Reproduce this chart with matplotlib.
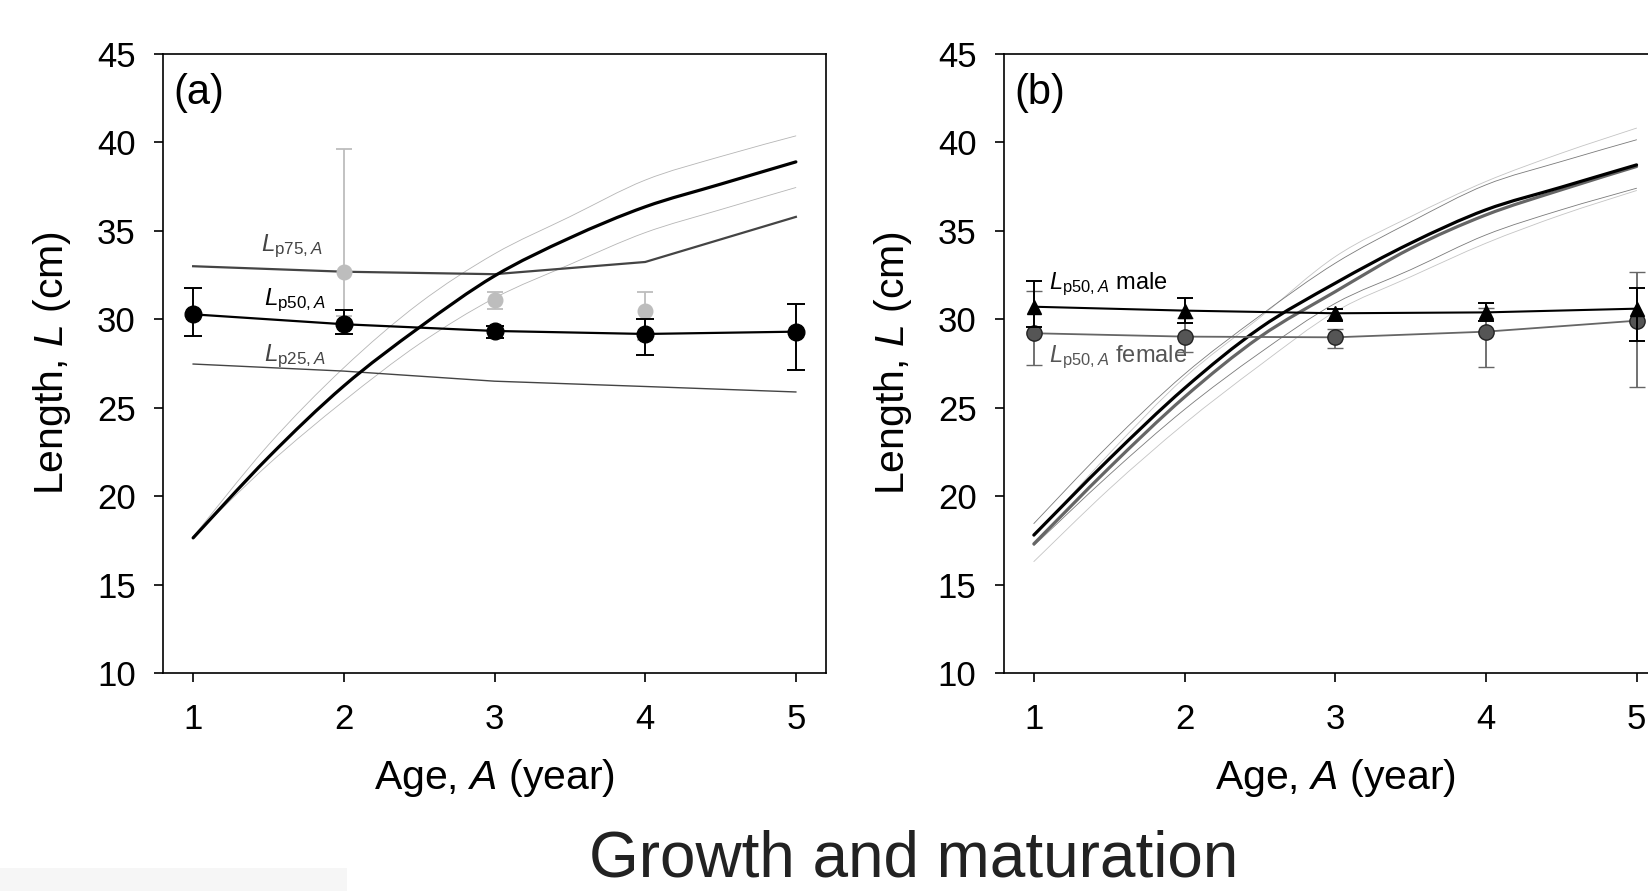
import matplotlib
matplotlib.use('Agg')
import matplotlib.pyplot as plt
from matplotlib.patches import Rectangle, PathPatch
from matplotlib.path import Path

plt.rcParams['font.family'] = ['Liberation Sans', 'DejaVu Sans']
plt.rcParams['mathtext.fontset'] = 'custom'
plt.rcParams['mathtext.rm'] = 'Liberation Sans'
plt.rcParams['mathtext.it'] = 'Liberation Sans:italic'

# ---------------- data ----------------
ages = [1, 2, 3, 4, 5]
curve_ages = [1, 1.5, 2, 2.5, 3, 3.5, 4, 4.5, 5]
x_ticks = [1, 2, 3, 4, 5]
y_ticks = [10, 15, 20, 25, 30, 35, 40, 45]

# panel (a)
a_growth = [17.64, 22.2, 26.23, 29.53, 32.45, 34.6, 36.36, 37.64, 38.9]
a_growth_hi = [17.7, 22.9, 27.26, 30.9, 33.7, 35.8, 37.87, 39.2, 40.37]
a_growth_lo = [17.7, 21.8, 25.38, 28.6, 31.2, 33.1, 34.9, 36.2, 37.45]
a_lp75 = [33.0, 32.69, 32.55, 33.24, 35.79]
a_lp50 = [30.28, 29.72, 29.34, 29.17, 29.3]
a_lp50_lo = [29.07, 29.17, 28.94, 27.98, 27.11]
a_lp50_hi = [31.79, 30.53, 29.64, 30.0, 30.87]
a_lp25 = [27.47, 27.07, 26.5, 26.2, 25.89]
a_obs_ages = [2, 3, 4]
a_obs = [32.69, 31.07, 30.47]
a_obs_lo = [30.19, 30.57, 28.81]
a_obs_hi = [39.65, 31.53, 31.56]

# panel (b)
b_growth_m = [17.8, 22.1, 26.1, 29.5, 32.04, 34.3, 36.19, 37.47, 38.73]
b_growth_f = [17.3, 21.6, 25.6, 29.0, 31.56, 34.0, 35.9, 37.32, 38.64]
b_growth_m_hi = [18.45, 22.9, 26.9, 30.2, 33.17, 35.5, 37.6, 38.92, 40.15]
b_growth_m_lo = [17.2, 21.2, 24.9, 28.1, 30.9, 32.8, 34.77, 36.19, 37.41]
b_growth_f_hi = [17.7, 22.4, 26.7, 30.1, 33.54, 35.8, 37.79, 39.39, 40.81]
b_growth_f_lo = [16.3, 20.4, 24.1, 27.4, 30.43, 32.4, 34.3, 35.9, 37.28]
b_lp50_m = [30.71, 30.49, 30.34, 30.39, 30.6]
b_lp50_m_lo = [29.55, 29.81, 29.9, 29.88, 28.79]
b_lp50_m_hi = [32.17, 31.19, 30.58, 30.92, 31.79]
b_lp50_f = [29.21, 29.02, 28.98, 29.3, 29.92]
b_lp50_f_lo = [27.41, 28.17, 28.35, 27.32, 26.19]
b_lp50_f_hi = [31.62, 30.06, 29.47, 30.64, 32.65]


def yerr(v, lo, hi):
    return [[a - b for a, b in zip(v, lo)], [b - a for a, b in zip(v, hi)]]


def smooth_line(ax, xs, ys, **kw):
    """Draw a smooth (Catmull-Rom / Bezier) line through the data points."""
    pts = list(zip(xs, ys))
    n = len(pts)
    verts = [pts[0]]
    codes = [Path.MOVETO]
    for i in range(n - 1):
        p0 = pts[i - 1] if i > 0 else pts[i]
        p1 = pts[i]
        p2 = pts[i + 1]
        p3 = pts[i + 2] if i + 2 < n else pts[i + 1]
        c1 = (p1[0] + (p2[0] - p0[0]) / 6, p1[1] + (p2[1] - p0[1]) / 6)
        c2 = (p2[0] - (p3[0] - p1[0]) / 6, p2[1] - (p3[1] - p1[1]) / 6)
        verts += [c1, c2, p2]
        codes += [Path.CURVE4] * 3
    patch = PathPatch(Path(verts, codes), fill=False, transform=ax.transData,
                      capstyle='round', joinstyle='round', **kw)
    ax.add_patch(patch)


W, H = 1648, 891
fig = plt.figure(figsize=(W / 100, H / 100), dpi=100)

ax_bottom = 1 - 673 / H
ax_h = 619 / H
ax_w = 663 / W
axA = fig.add_axes([163 / W, ax_bottom, ax_w, ax_h])
axB = fig.add_axes([1003.7 / W, ax_bottom, ax_w, ax_h])

for ax in (axA, axB):
    ax.set_xlim(0.8, 5.2)
    ax.set_ylim(10, 45)
    ax.set_xticks(x_ticks)
    ax.set_yticks(y_ticks)
    ax.tick_params(direction='out', length=6.5, width=1.2, labelsize=25, colors='black')
    ax.tick_params(axis='x', pad=15)
    ax.tick_params(axis='y', pad=13)
    for s in ax.spines.values():
        s.set_linewidth(1.2)
    ax.set_xlabel('Age, $A$ (year)', fontsize=29.5)
    ax.set_ylabel('Length, $L$ (cm)', fontsize=29.5)
    ax.xaxis.set_label_coords(0.5, -0.17)
    ax.xaxis.label.set_va('center')
    ax.yaxis.set_label_coords(-0.1667, 0.5)
    ax.yaxis.label.set_va('center')

# ---- panel (a)
smooth_line(axA, curve_ages, a_growth_hi, edgecolor='#b5b5b5', lw=0.6, zorder=2)
smooth_line(axA, curve_ages, a_growth_lo, edgecolor='#b5b5b5', lw=0.6, zorder=2)
smooth_line(axA, curve_ages, a_growth, edgecolor='black', lw=2.3, zorder=4)
axA.plot(ages, a_lp75, color='#444444', lw=1.6, zorder=3)
axA.plot(ages, a_lp25, color='#444444', lw=1.0, zorder=3)
axA.errorbar(a_obs_ages, a_obs, yerr=yerr(a_obs, a_obs_lo, a_obs_hi), fmt='o',
             color='#bdbdbd', ms=10.5, capsize=6, elinewidth=1.3, capthick=1.3,
             mec='#bdbdbd', zorder=3)
axA.errorbar(ages, a_lp50, yerr=yerr(a_lp50, a_lp50_lo, a_lp50_hi), fmt='-o',
             color='black', lw=1.6, ms=12, capsize=6.2, elinewidth=1.4,
             capthick=1.4, zorder=5)
axA.text(1.45, 34.1, r'$L_{\mathrm{p75,}A}$', fontsize=17.5, color='#444444',
         ha='left', va='center')
axA.text(1.47, 31.05, r'$L_{\mathrm{p50,}A}$', fontsize=17.5, color='black',
         ha='left', va='center')
axA.text(1.47, 27.9, r'$L_{\mathrm{p25,}A}$', fontsize=17.5, color='#444444',
         ha='left', va='center')
axA.text(0.87, 42.8, '(a)', fontsize=30, ha='left', va='center')

# ---- panel (b)
smooth_line(axB, curve_ages, b_growth_f_hi, edgecolor='#c4c4c4', lw=0.6, zorder=2)
smooth_line(axB, curve_ages, b_growth_f_lo, edgecolor='#c4c4c4', lw=0.6, zorder=2)
smooth_line(axB, curve_ages, b_growth_m_hi, edgecolor='#7a7a7a', lw=0.6, zorder=2)
smooth_line(axB, curve_ages, b_growth_m_lo, edgecolor='#7a7a7a', lw=0.6, zorder=2)
smooth_line(axB, curve_ages, b_growth_f, edgecolor='#666666', lw=2.3, zorder=3)
smooth_line(axB, curve_ages, b_growth_m, edgecolor='black', lw=2.3, zorder=4)
axB.errorbar(ages, b_lp50_f, yerr=yerr(b_lp50_f, b_lp50_f_lo, b_lp50_f_hi), fmt='-o',
             color='#666666', lw=1.3, ms=11, mfc='#555555', mec='#222222', mew=1.0,
             capsize=6, elinewidth=1.3, capthick=1.3, zorder=5)
axB.errorbar(ages, b_lp50_m, yerr=yerr(b_lp50_m, b_lp50_m_lo, b_lp50_m_hi), fmt='-^',
             color='black', lw=1.5, ms=10.5, capsize=6, elinewidth=1.4,
             capthick=1.4, zorder=6)
axB.text(1.1, 32.0, r'$L_{\mathrm{p50,}A}$ male', fontsize=17, color='black',
         ha='left', va='center')
axB.text(1.1, 27.85, r'$L_{\mathrm{p50,}A}$ female', fontsize=17, color='#555555',
         ha='left', va='center')
axB.text(0.87, 42.8, '(b)', fontsize=30, ha='left', va='center')

# faint box bottom-left
fig.patches.append(Rectangle((0, 0), 347 / W, 23 / H, transform=fig.transFigure,
                             facecolor='#f6f6f6', edgecolor='none', zorder=0))

fig.text(913.5 / W, 1 - 876.7 / H, 'Growth and maturation', fontsize=46,
         color='#222222', ha='center', va='baseline')

fig.savefig('out.png', dpi=100)
